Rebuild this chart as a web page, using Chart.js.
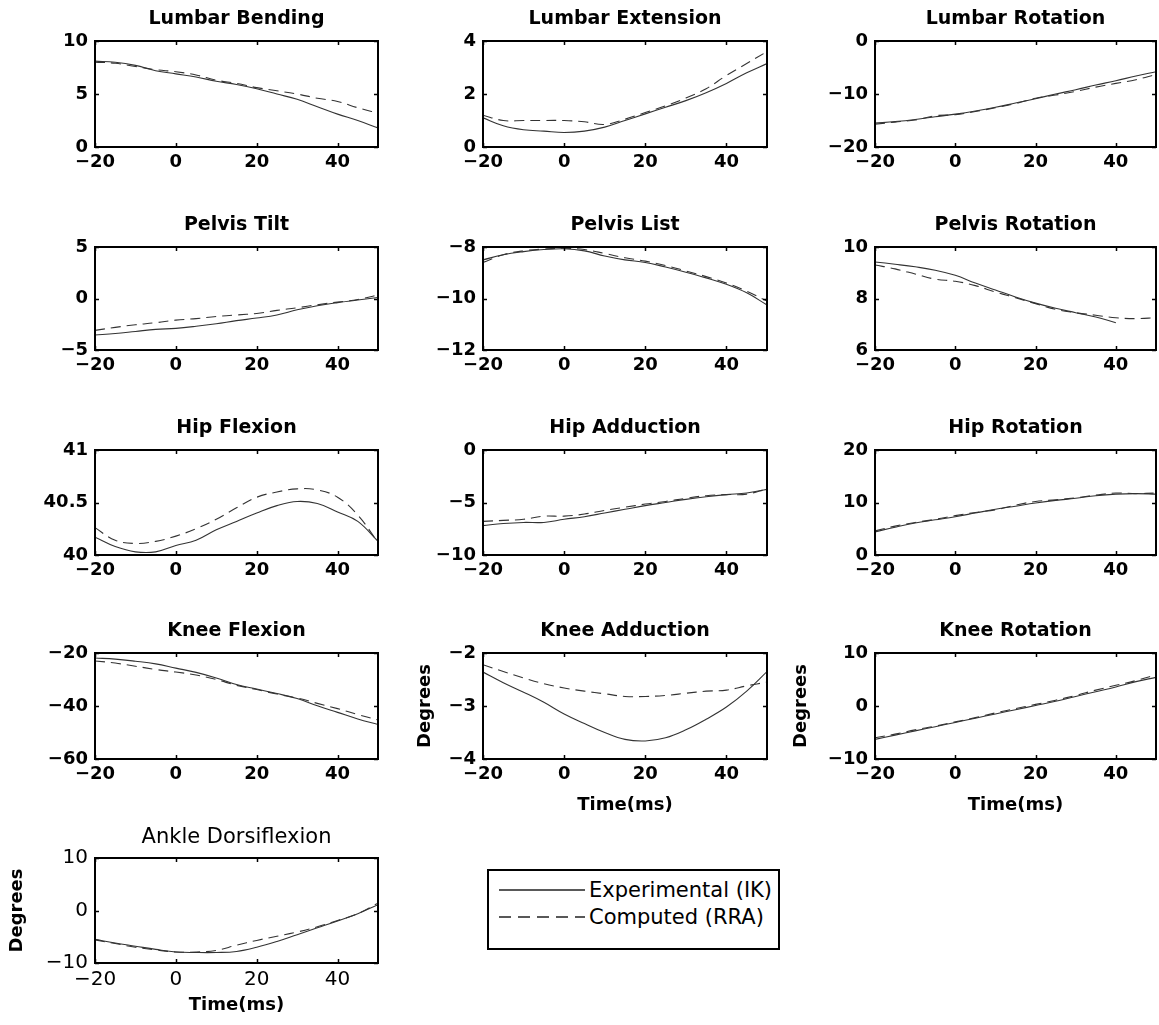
<!DOCTYPE html>
<html lang="en">
<head>
<meta charset="UTF-8">
<title>Joint Angles - Experimental (IK) vs Computed (RRA)</title>
<script src="https://cdn.jsdelivr.net/npm/chart.js@4"></script>
<style>
  body { margin: 0; background: #fff; width: 1159px; height: 1025px; position: relative; overflow: hidden; }
  canvas { position: absolute; }
  .legend { position: absolute; left: 487px; top: 869px; width: 293px; height: 81px; border: 2px solid #000; box-sizing: border-box; font-family: "DejaVu Sans", sans-serif; font-size: 21px; color: #000; }
  .legend svg { position: absolute; left: 10px; top: 0; }
  .legend span { position: absolute; left: 100px; line-height: 24px; white-space: nowrap; }
</style>
</head>
<body>
<div class="legend">
  <svg width="90" height="78">
    <line x1="0" y1="19" x2="86" y2="19" stroke="#222" stroke-width="1.4"/>
    <line x1="0" y1="46" x2="86" y2="46" stroke="#222" stroke-width="1.4" stroke-dasharray="12,7"/>
  </svg>
  <span style="top:7px">Experimental (IK)</span>
  <span style="top:34px">Computed (RRA)</span>
</div>
<script>
// time axis, ms
const timeMs = [-20, -15, -10, -5, 0, 5, 10, 15, 20, 25, 30, 35, 40, 45, 50];
const xTicks = [-20, 0, 20, 40];

// Experimental (IK) and Computed (RRA) joint angles, degrees
const lumbarBendingIK = [8.1, 8.0, 7.7, 7.2, 6.9, 6.6, 6.2, 5.9, 5.5, 5.0, 4.5, 3.8, 3.1, 2.5, 1.8];
const lumbarBendingRRA = [8.0, 7.9, 7.6, 7.3, 7.1, 6.8, 6.3, 6.0, 5.6, 5.3, 5.0, 4.6, 4.3, 3.7, 3.2];
const lumbarBendingTicks = [0, 5, 10];

const lumbarExtensionIK = [1.1, 0.8, 0.65, 0.6, 0.55, 0.6, 0.75, 1.0, 1.25, 1.5, 1.75, 2.05, 2.4, 2.8, 3.15];
const lumbarExtensionRRA = [1.2, 1.0, 1.0, 1.0, 1.0, 0.95, 0.85, 1.05, 1.3, 1.55, 1.85, 2.2, 2.7, 3.15, 3.6];
const lumbarExtensionTicks = [0, 2, 4];

const lumbarRotationIK = [-15.5, -15.2, -14.8, -14.3, -13.8, -13.2, -12.5, -11.7, -10.9, -10.0, -9.2, -8.3, -7.5, -6.6, -5.8];
const lumbarRotationRRA = [-15.7, -15.3, -14.9, -14.1, -13.9, -13.3, -12.6, -11.8, -10.8, -10.2, -9.5, -8.7, -8.0, -7.3, -6.3];
const lumbarRotationTicks = [-20, -10, 0];

const pelvisTiltIK = [-3.55, -3.4, -3.2, -3.0, -2.9, -2.7, -2.45, -2.15, -1.9, -1.6, -1.1, -0.7, -0.4, -0.15, 0.1];
const pelvisTiltRRA = [-3.1, -2.8, -2.55, -2.35, -2.1, -1.95, -1.75, -1.6, -1.45, -1.15, -0.9, -0.6, -0.35, -0.1, 0.35];
const pelvisTiltTicks = [-5, 0, 5];

const pelvisListIK = [-8.5, -8.3, -8.18, -8.1, -8.07, -8.15, -8.35, -8.5, -8.6, -8.78, -8.98, -9.2, -9.45, -9.78, -10.25];
const pelvisListRRA = [-8.6, -8.3, -8.15, -8.08, -8.05, -8.1, -8.25, -8.42, -8.55, -8.72, -8.93, -9.15, -9.4, -9.72, -10.1];
const pelvisListTicks = [-12, -10, -8];

const pelvisRotationIK = [9.42, 9.33, 9.23, 9.1, 8.9, 8.6, 8.33, 8.06, 7.82, 7.62, 7.45, 7.28, 7.06, null, null];
const pelvisRotationRRA = [9.3, 9.15, 8.95, 8.75, 8.67, 8.5, 8.25, 8.03, 7.8, 7.58, 7.45, 7.35, 7.25, 7.22, 7.25];
const pelvisRotationTicks = [6, 8, 10];

const hipFlexionIK = [40.17, 40.08, 40.03, 40.03, 40.09, 40.14, 40.24, 40.32, 40.4, 40.47, 40.51, 40.49, 40.41, 40.32, 40.13];
const hipFlexionRRA = [40.26, 40.14, 40.11, 40.13, 40.18, 40.25, 40.34, 40.45, 40.55, 40.6, 40.63, 40.62, 40.55, 40.38, 40.12];
const hipFlexionTicks = [40, 40.5, 41];

const hipAdductionIK = [-7.2, -7.0, -6.9, -6.9, -6.6, -6.35, -6.0, -5.65, -5.3, -5.0, -4.7, -4.45, -4.25, -4.1, -3.75];
const hipAdductionRRA = [-6.8, -6.7, -6.6, -6.3, -6.3, -6.1, -5.75, -5.45, -5.15, -4.9, -4.6, -4.35, -4.25, -4.2, -3.7];
const hipAdductionTicks = [-10, -5, 0];

const hipRotationIK = [4.4, 5.3, 6.1, 6.7, 7.3, 8.0, 8.7, 9.3, 9.9, 10.4, 10.8, 11.3, 11.6, 11.7, 11.6];
const hipRotationRRA = [4.6, 5.5, 6.2, 6.8, 7.5, 8.1, 8.6, 9.5, 10.2, 10.5, 10.9, 11.4, 11.8, 11.7, 11.8];
const hipRotationTicks = [0, 10, 20];

const kneeFlexionIK = [-21.9, -22.3, -23.1, -24.1, -25.7, -27.3, -29.4, -31.9, -33.6, -35.3, -37.2, -39.9, -42.4, -44.9, -47.0];
const kneeFlexionRRA = [-23.0, -23.8, -25.0, -26.2, -27.2, -28.3, -30.0, -32.2, -33.8, -35.5, -37.0, -39.0, -41.0, -43.2, -45.3];
const kneeFlexionTicks = [-60, -40, -20];

const kneeAdductionIK = [-2.36, -2.56, -2.74, -2.93, -3.15, -3.33, -3.5, -3.63, -3.66, -3.6, -3.45, -3.25, -3.02, -2.72, -2.35];
const kneeAdductionRRA = [-2.22, -2.35, -2.47, -2.58, -2.66, -2.72, -2.77, -2.82, -2.82, -2.8, -2.76, -2.72, -2.7, -2.62, -2.55];
const kneeAdductionTicks = [-4, -3, -2];

const kneeRotationIK = [-6.3, -5.5, -4.7, -3.9, -3.1, -2.3, -1.5, -0.7, 0.1, 0.9, 1.8, 2.7, 3.6, 4.6, 5.4];
const kneeRotationRRA = [-6.0, -5.3, -4.5, -3.8, -3.0, -2.2, -1.3, -0.5, 0.3, 1.1, 2.0, 3.0, 3.9, 4.8, 5.9];
const kneeRotationTicks = [-10, 0, 10];

const ankleDorsiflexionIK = [-5.5, -6.2, -6.8, -7.4, -7.9, -8.0, -8.0, -7.8, -7.0, -5.9, -4.6, -3.3, -2.0, -0.6, 1.1];
const ankleDorsiflexionRRA = [-5.6, -6.3, -7.0, -7.5, -7.9, -7.9, -7.6, -6.6, -5.7, -4.9, -4.1, -3.1, -1.9, -0.6, 1.4];
const ankleDorsiflexionTicks = [-10, 0, 10];

const panels = [
  { title: 'Lumbar Bending', ik: lumbarBendingIK, rra: lumbarBendingRRA, ticks: lumbarBendingTicks, row: 0, col: 0 },
  { title: 'Lumbar Extension', ik: lumbarExtensionIK, rra: lumbarExtensionRRA, ticks: lumbarExtensionTicks, row: 0, col: 1 },
  { title: 'Lumbar Rotation', ik: lumbarRotationIK, rra: lumbarRotationRRA, ticks: lumbarRotationTicks, row: 0, col: 2 },
  { title: 'Pelvis Tilt', ik: pelvisTiltIK, rra: pelvisTiltRRA, ticks: pelvisTiltTicks, row: 1, col: 0 },
  { title: 'Pelvis List', ik: pelvisListIK, rra: pelvisListRRA, ticks: pelvisListTicks, row: 1, col: 1 },
  { title: 'Pelvis Rotation', ik: pelvisRotationIK, rra: pelvisRotationRRA, ticks: pelvisRotationTicks, row: 1, col: 2 },
  { title: 'Hip Flexion', ik: hipFlexionIK, rra: hipFlexionRRA, ticks: hipFlexionTicks, row: 2, col: 0 },
  { title: 'Hip Adduction', ik: hipAdductionIK, rra: hipAdductionRRA, ticks: hipAdductionTicks, row: 2, col: 1 },
  { title: 'Hip Rotation', ik: hipRotationIK, rra: hipRotationRRA, ticks: hipRotationTicks, row: 2, col: 2 },
  { title: 'Knee Flexion', ik: kneeFlexionIK, rra: kneeFlexionRRA, ticks: kneeFlexionTicks, row: 3, col: 0 },
  { title: 'Knee Adduction', ik: kneeAdductionIK, rra: kneeAdductionRRA, ticks: kneeAdductionTicks, row: 3, col: 1, yLabel: 425, xLabel: 46 },
  { title: 'Knee Rotation', ik: kneeRotationIK, rra: kneeRotationRRA, ticks: kneeRotationTicks, row: 3, col: 2, yLabel: 801, xLabel: 46 },
  { title: 'Ankle Dorsiflexion', ik: ankleDorsiflexionIK, rra: ankleDorsiflexionRRA, ticks: ankleDorsiflexionTicks, row: 4, col: 0, yLabel: 17, xLabel: 42 }
];

// plot-box edges in page pixels
const rowEdges = [[41, 147], [247, 350], [450, 555], [653, 759], [858, 963]];
const colEdges = [[95, 378], [483, 767], [875, 1156]];
const AXIS_W = 95, TITLE_H = 40, XAXIS_H = 60;

const FONT = '"DejaVu Sans", sans-serif';
const minus = v => String(v).replace('-', '\u2212');

// MATLAB-ish box with inward ticks on all four sides
const boxPlugin = {
  id: 'matlabBox',
  afterDraw(chart) {
    const { ctx, chartArea: a, scales: { x, y } } = chart;
    ctx.save();
    ctx.strokeStyle = '#000';
    ctx.lineWidth = 1.5;
    ctx.beginPath();
    x.ticks.forEach(t => {
      const px = Math.round(x.getPixelForValue(t.value)) + 0.5;
      ctx.moveTo(px, a.bottom); ctx.lineTo(px, a.bottom - 4);
      ctx.moveTo(px, a.top); ctx.lineTo(px, a.top + 4);
    });
    y.ticks.forEach(t => {
      const py = Math.round(y.getPixelForValue(t.value)) + 0.5;
      ctx.moveTo(a.left, py); ctx.lineTo(a.left + 4, py);
      ctx.moveTo(a.right, py); ctx.lineTo(a.right - 4, py);
    });
    ctx.stroke();
    ctx.lineWidth = 2;
    ctx.strokeRect(a.left, a.top, a.right - a.left, a.bottom - a.top);
    ctx.restore();
  }
};

panels.forEach(p => {
  const [top, bottom] = rowEdges[p.row];
  const [left, right] = colEdges[p.col];
  const thin = p.row === 4;
  const tickFont = thin ? { family: FONT, size: 20, weight: 'normal' } : { family: FONT, size: 18, weight: 'bold' };
  const titleFont = thin ? { family: FONT, size: 21, weight: 'normal' } : { family: FONT, size: 19, weight: 'bold' };
  const labelFont = { family: FONT, size: 18, weight: 'bold' };

  const canvas = document.createElement('canvas');
  canvas.width = AXIS_W + (right - left) + 3;
  canvas.height = TITLE_H + (bottom - top) + XAXIS_H;
  canvas.style.left = (left - AXIS_W) + 'px';
  canvas.style.top = (top - TITLE_H) + 'px';
  document.body.appendChild(canvas);

  const titleLine = titleFont.size * 1.2;
  const labelLine = labelFont.size * 1.2;

  new Chart(canvas, {
    type: 'line',
    data: {
      datasets: [
        { label: 'Experimental (IK)', data: timeMs.map((t, i) => ({ x: t, y: p.ik[i] })),
          borderColor: '#333', borderWidth: 1.1, pointRadius: 0, tension: 0.4, fill: false },
        { label: 'Computed (RRA)', data: timeMs.map((t, i) => ({ x: t, y: p.rra[i] })),
          borderColor: '#333', borderWidth: 1.1, borderDash: [10, 6], pointRadius: 0, tension: 0.4, fill: false }
      ]
    },
    options: {
      responsive: false,
      animation: false,
      events: [],
      layout: { padding: { left: 0, right: 3, top: 0, bottom: 0 } },
      plugins: {
        legend: { display: false },
        tooltip: { enabled: false },
        title: {
          display: true, fullSize: false, text: p.title, color: '#000', font: titleFont,
          padding: { top: 7, bottom: TITLE_H - 7 - titleLine }
        }
      },
      scales: {
        x: {
          type: 'linear', min: -20, max: 50,
          afterBuildTicks: s => { s.ticks = xTicks.map(v => ({ value: v })); },
          afterFit: s => { s.height = XAXIS_H; },
          grid: { display: false, drawTicks: false },
          border: { display: false },
          ticks: { color: '#000', font: tickFont, padding: 5, maxRotation: 0, autoSkip: false, callback: minus },
          title: {
            display: !!p.xLabel, text: 'Time(ms)', color: '#000', font: labelFont,
            padding: { top: 0, bottom: p.xLabel ? XAXIS_H - p.xLabel - labelLine / 2 : 0 }
          }
        },
        y: {
          type: 'linear', min: p.ticks[0], max: p.ticks[p.ticks.length - 1],
          afterBuildTicks: s => { s.ticks = p.ticks.map(v => ({ value: v })); },
          afterFit: s => { s.width = AXIS_W; },
          grid: { display: false, drawTicks: false },
          border: { display: false },
          ticks: { color: '#000', font: tickFont, padding: 7, autoSkip: false, callback: minus },
          title: {
            display: !!p.yLabel, text: 'Degrees', color: '#000', font: labelFont,
            padding: { top: p.yLabel ? p.yLabel - (left - AXIS_W) - labelLine / 2 : 0, bottom: 0 }
          }
        }
      }
    },
    plugins: [boxPlugin]
  });
});
</script>
</body>
</html>
